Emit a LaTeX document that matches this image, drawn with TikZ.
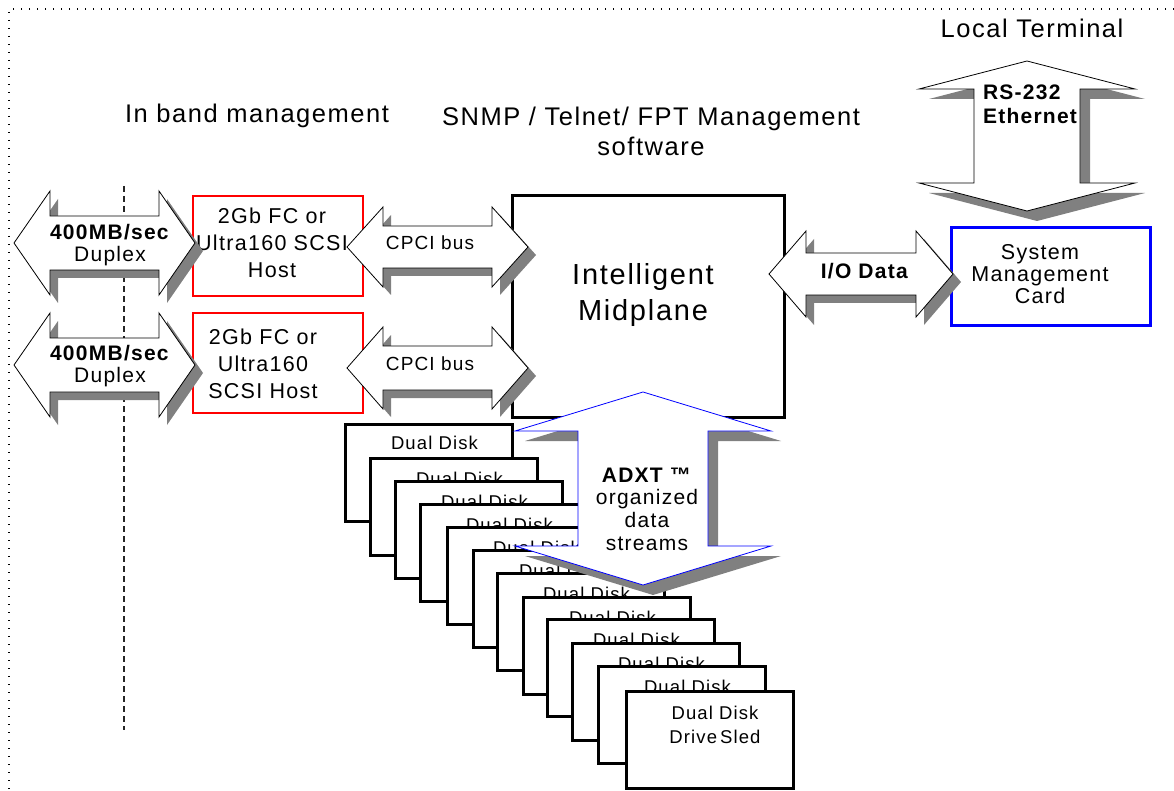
\documentclass[tikz,border=0pt]{standalone}
\usepackage{fontspec}
\setmainfont{Liberation Sans}[LetterSpace=6]
\definecolor{shadowgray}{RGB}{128,128,128}
\definecolor{boxred}{RGB}{255,0,0}
\definecolor{boxblue}{RGB}{0,0,255}
% horizontal double block arrow: #1 style, #2 x1, #3 x2, #4 yc, #5 shaft half, #6 head half, #7 head length
\newcommand\HArr[7]{%
  \path[#1] (#2,#4) -- ({#2+#7},{#4-#6}) -- ({#2+#7},{#4-#5}) -- ({#3-#7},{#4-#5}) -- ({#3-#7},{#4-#6}) -- (#3,#4)
     -- ({#3-#7},{#4+#6}) -- ({#3-#7},{#4+#5}) -- ({#2+#7},{#4+#5}) -- ({#2+#7},{#4+#6}) -- cycle;}
% vertical double block arrow: #1 style, #2 xc, #3 y1, #4 y2, #5 shaft half, #6 head half, #7 head length
\newcommand\VArr[7]{%
  \path[#1] (#2,#3) -- ({#2+#6},{#3+#7}) -- ({#2+#5},{#3+#7}) -- ({#2+#5},{#4-#7}) -- ({#2+#6},{#4-#7}) -- (#2,#4)
     -- ({#2-#6},{#4-#7}) -- ({#2-#5},{#4-#7}) -- ({#2-#5},{#3+#7}) -- ({#2-#6},{#3+#7}) -- cycle;}
\begin{document}
\begin{tikzpicture}[x=1pt,y=-1pt,
  every node/.style={inner sep=0pt, outer sep=0pt, align=center},
  frameline/.style={line width=1.4pt, dash pattern=on 1.4pt off 6.6pt, black},
  midline/.style={line width=1.5pt, dash pattern=on 6pt off 4pt, black!85},
  toptext/.style={font=\fontsize{25.5}{30}\selectfont},
  hostbox/.style={draw=boxred, line width=2.8pt, fill=white, minimum width=170pt, minimum height=100pt},
  midbox/.style={draw=black, line width=3pt, fill=white, minimum width=272pt, minimum height=221pt},
  mgmtbox/.style={draw=boxblue, line width=3pt, fill=white, minimum width=199pt, minimum height=97pt},
  diskbox/.style={draw=black, line width=3pt, fill=white, minimum width=167pt, minimum height=97pt, anchor=north west},
  boxtext/.style={font=\fontsize{21.5}{27}\selectfont},
  cardtext/.style={font=\fontsize{21.5}{22}\selectfont},
  midtext/.style={font=\fontsize{29}{36}\selectfont},
  disktext/.style={font=\fontsize{18.5}{24}\selectfont},
  arrtext/.style={font=\fontsize{21}{22}\selectfont},
  bustext/.style={font=\fontsize{19}{22}\selectfont},
  shadowed/.style={preaction={fill=shadowgray, draw=none, transform canvas={xshift=#1pt, yshift=-#1pt}}},
  blockarrow/.style={fill=white, draw=black, line width=0.8pt, line join=miter, shadowed=#1},
  bluearrow/.style={fill=white, draw=boxblue, line width=0.8pt, line join=miter, shadowed=#1}
]
\useasboundingbox (0,0) rectangle (1174,791);
% dotted frame
\coordinate (fc) at (9,9);
\coordinate (fr) at (1174,9);
\coordinate (fb) at (9,791);
\draw[frameline] (fr) -- (fc) -- (fb);
% dashed divider
\coordinate (dtop) at (124,186);
\coordinate (dbot) at (124,730);
\draw[midline] (dtop) -- (dbot);
% headings
\node[toptext] (inband) at (257,116) {In band management};
\node[toptext] (snmp) at (651,131) {SNMP / Telnet/ FPT Management\\software};
\node[toptext] (local) at (1032,28) {Local Terminal};
% boxes
\node[hostbox] (host1) at (278,246) {};
\node[boxtext] (host1text) at (272,243) {2Gb FC or\\Ultra160 SCSI\\Host};
\node[hostbox] (host2) at (278,363) {};
\node[boxtext] (host2text) at (263,364) {2Gb FC or\\Ultra160\\SCSI Host};
\node[midbox] (mid) at (648,306.5) {};
\node[midtext] (midlabel) at (643,295) {Intelligent\\Midplane};
\node[mgmtbox] (card) at (1050.5,276.5) {};
\node[cardtext] (cardlabel) at (1040,274) {System\\Management\\Card};
% disk sleds
\node[diskbox] (disk1) at (345,424) {};
\node[disktext] (disklabel1) at (434.5,443) {Dual Disk};
\foreach \i/\x/\y in {2/370/458, 3/395/481, 4/420/504, 5/447/527, 6/473/550,
                      7/497/573, 8/523/597, 9/547/619, 10/572/643, 11/598/666}{
  \node[diskbox] (disk\i) at (\x,\y) {};
  \node[disktext] (disklabel\i) at ({\x+89.5},{\y+20.5}) {Dual Disk};
}
\node[diskbox] (disk12) at (626,691) {};
\node[disktext] (disklabel12) at (715,725) {Dual Disk\\Drive\,Sled};
% block arrows
\HArr{blockarrow=8}{14}{195}{243}{27}{52}{36}
\node[arrtext] (duplex1) at (110,245) {\textbf{400MB/sec}\\Duplex};
\HArr{blockarrow=8}{14}{195}{365}{27}{52}{36}
\node[arrtext] (duplex2) at (110,366) {\textbf{400MB/sec}\\Duplex};
\HArr{blockarrow=8}{347}{528}{247}{21}{40}{36}
\node[bustext] (bus1) at (430,243) {CPCI bus};
\HArr{blockarrow=8}{347}{528}{368}{22}{41}{36}
\node[bustext] (bus2) at (430,364) {CPCI bus};
\HArr{blockarrow=8}{769}{953}{274}{21}{43}{37}
\node[arrtext] (iodata) at (865,271) {\textbf{I/O Data}};
\VArr{blockarrow=10}{1027}{61}{211}{53}{108}{28}
\node[arrtext, font=\fontsize{21}{24}\selectfont, anchor=north west, align=left] (rs232) at (983,85) {\textbf{RS-232}\\\textbf{Ethernet}};
\VArr{bluearrow=10}{643}{392}{585}{65}{128}{39}
\node[arrtext, font=\fontsize{21}{22.7}\selectfont] (adxt) at (647,509) {\textbf{ADXT ™}\\organized\\data\\streams};
\end{tikzpicture}
\end{document}
